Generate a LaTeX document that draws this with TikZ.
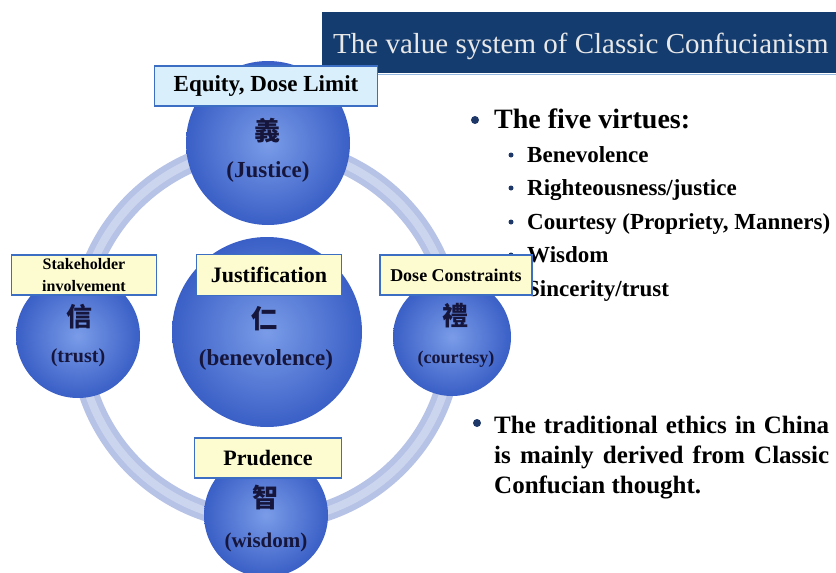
\documentclass[tikz,border=0pt]{standalone}
\usepackage{fontspec}
\setmainfont{Liberation Serif}
\newfontfamily\cjk{Noto Sans CJK TC}
\usepackage{tikz}

\definecolor{banner}{RGB}{20,60,110}
\definecolor{bannerline}{RGB}{150,185,225}
\definecolor{titlegray}{RGB}{232,232,232}
\definecolor{ringblue}{RGB}{182,194,230}
\definecolor{ringlight}{RGB}{204,213,238}
\definecolor{ballin}{RGB}{122,156,232}
\definecolor{ballout}{RGB}{58,95,198}
\definecolor{boxline}{RGB}{60,110,195}
\definecolor{boxyellow}{RGB}{253,251,208}
\definecolor{boxblue}{RGB}{218,239,252}
\definecolor{inktext}{RGB}{22,22,60}
\definecolor{dotblue}{RGB}{30,55,105}

\begin{document}
\begin{tikzpicture}
[x=1pt, y=-1pt,
 virtue/.style={circle, shading=radial, inner color=ballin, outer color=ballout, inner sep=0pt},
 hanzi/.style={text=inktext, inner sep=0pt, font=\cjk\bfseries\fontsize{#1}{#1}\selectfont},
 hanzi/.default=26,
 gloss/.style={text=inktext, inner sep=0pt, font=\bfseries\fontsize{#1}{#1}\selectfont},
 gloss/.default=23,
 tag/.style={draw=boxline, line width=1.5pt, fill=boxyellow, inner sep=1pt, align=center, font=\bfseries\fontsize{#1}{#1}\selectfont},
 tag/.default=22,
 item/.style={anchor=base west, inner sep=0pt, font=\bfseries\fontsize{#1}{#1}\selectfont},
 item/.default=23,
 dot/.style={circle, fill=dotblue, inner sep=0pt, minimum size=#1},
 dot/.default=5pt]
\useasboundingbox (0,0) rectangle (836,573);

% title bar
\fill[banner] (322,12) rectangle (836,73);
\draw[bannerline, line width=1pt] (322,74) -- (836,74);
\node[anchor=base west, inner sep=0pt, text=titlegray, font=\fontsize{29}{29}\selectfont] (title) at (333,53) {The value system of Classic Confucianism};

% ring behind the virtues
\draw[ringblue, line width=20pt] (266,334) circle[radius=187pt];
\draw[ringlight, line width=8pt] (266,334) circle[radius=187pt];

% the five virtues
\node[virtue, minimum size=164pt] (yi) at (268,143) {};
\node[virtue, minimum size=190pt] (ren) at (267,332) {};
\node[virtue, minimum size=124pt] (xin) at (78,336) {};
\node[virtue, minimum size=118pt] (li) at (452,337) {};
\node[virtue, minimum size=124pt] (zhi) at (266,515) {};

\node[hanzi] (yi-c) at (267,131) {義};
\node[gloss] (yi-g) at (268,172) {(Justice)};
\node[hanzi] (ren-c) at (264,319) {仁};
\node[gloss] (ren-g) at (266,360) {(benevolence)};
\node[hanzi] (xin-c) at (79,317) {信};
\node[gloss=20] (xin-g) at (78,358) {(trust)};
\node[hanzi] (li-c) at (455,316) {禮};
\node[gloss=18] (li-g) at (456,359) {(courtesy)};
\node[hanzi] (zhi-c) at (265,497) {智};
\node[gloss=21] (zhi-g) at (266,542) {(wisdom)};

% right hand text
\node[dot=8pt] (b1) at (475,120) {};
\node[item=28] (virtues) at (494,128) {The five virtues:};
\foreach \name/\y/\txt in {ben/162/Benevolence, rig/195/{Righteousness/justice}, cou/229/{Courtesy (Propriety, Manners)}, wis/262/Wisdom, sin/296/{Sincerity/trust}}{
  \node[dot] (d-\name) at (511,\y-7) {};
  \node[item] (v-\name) at (527,\y) {\txt};
}
\node[dot=8pt] (b2) at (477,423) {};
\node[anchor=north west, inner sep=0pt, text width=335pt, align=justify, font=\bfseries\fontsize{25}{30}\selectfont] (note) at (494,416) {The traditional ethics in China\linebreak is mainly derived from Classic\linebreak Confucian thought.};

% principle tags
\node[tag=23, fill=boxblue, minimum width=223pt, minimum height=40pt] (equity) at (266,86) {Equity, Dose Limit};
\node[tag=16, minimum width=145pt, minimum height=40pt, font=\bfseries\fontsize{16}{22}\selectfont] (stake) at (84,275) {Stakeholder\\involvement};
\node[tag, minimum width=145pt, minimum height=41pt] (just) at (269,275) {Justification};
\node[tag=18, minimum width=152pt, minimum height=40pt] (dose) at (456,275) {Dose Constraints};
\node[tag, minimum width=147pt, minimum height=40pt] (prud) at (268,458) {Prudence};

\end{tikzpicture}
\end{document}
